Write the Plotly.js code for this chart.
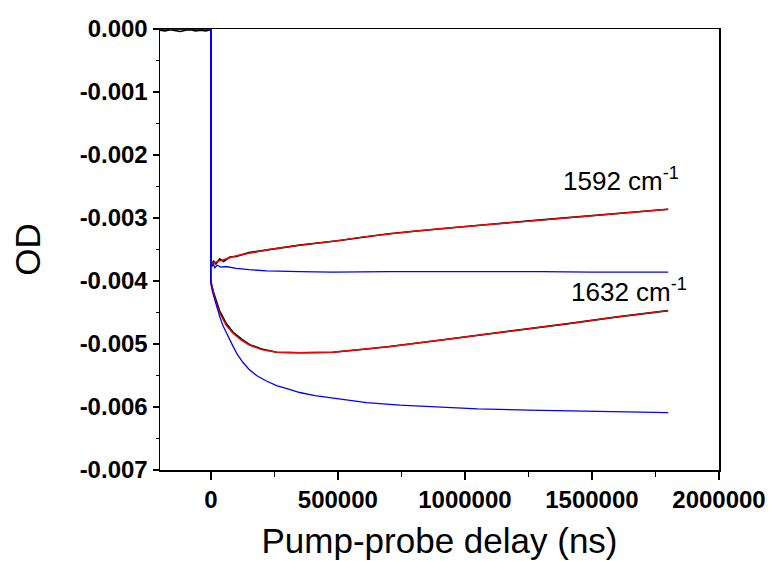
<!DOCTYPE html>
<html><head><meta charset="utf-8">
<script src="https://cdn.plot.ly/plotly-3.0.1.min.js"></script>
<style>body{margin:0;background:#fff}</style>
</head><body><div id="chart" style="width:771px;height:561px"></div>
<script>
// Pre-zero baseline
const tPre = [-200000, -180000, -160000, -140000, -120000, -100000, -80000, -60000, -40000, -20000, 0];
const blackPre = [-0.00002, -0.00003, -0.00001, -0.00003, -0.00004, -0.00002, -0.00001, -0.00003, -0.00002, -0.00003, -0.00001];
const bluePre = [0, 0, 0, 0, 0, 0, 0, 0, 0, 0, 0];

// 1592 cm-1 : data (black), fit (red), second data set (blue)
const t1592 = [0, 5000, 10000, 20000, 35000, 50000, 75000, 100000, 150000, 230000, 350000, 500000, 600000, 700000, 800000, 900000, 1100000, 1300000, 1500000, 1700000, 1800000];
const data1592 = [-0.00372, -0.00376, -0.00368, -0.00373, -0.00365, -0.00369, -0.00362, -0.00361, -0.00355, -0.00350, -0.00343, -0.00336, -0.00330, -0.00325, -0.00321, -0.00317, -0.00310, -0.00303, -0.00296, -0.00289, -0.00286];
const fit1592 = [-0.00373, -0.00372, -0.00371, -0.00370, -0.00368, -0.00366, -0.00363, -0.00360, -0.00356, -0.00350, -0.00343, -0.00336, -0.00330, -0.00325, -0.00321, -0.00317, -0.00310, -0.00303, -0.00296, -0.00289, -0.00286];
const tBlue1592 = [0, 5000, 10000, 15000, 25000, 40000, 60000, 100000, 150000, 220000, 350000, 480000, 700000, 900000, 1100000, 1300000, 1500000, 1800000];
const blue1592 = [-0.00371, -0.00377, -0.00372, -0.00379, -0.00375, -0.00378, -0.00377, -0.00380, -0.00382, -0.00384, -0.00385, -0.00386, -0.00385, -0.00385, -0.00384, -0.00385, -0.00386, -0.00386];

// 1632 cm-1
const t1632 = [0, 10000, 20000, 35000, 60000, 87000, 120000, 153000, 200000, 260000, 350000, 480000, 614000, 705000, 900000, 1100000, 1250000, 1400000, 1600000, 1800000];
const data1632 = [-0.00400, -0.00417, -0.00431, -0.00448, -0.00467, -0.00481, -0.00492, -0.00501, -0.00508, -0.00513, -0.00514, -0.00513, -0.00508, -0.00504, -0.00494, -0.00484, -0.00476, -0.00468, -0.00457, -0.00447];
const fit1632 = [-0.00402, -0.00420, -0.00434, -0.00451, -0.00470, -0.00483, -0.00494, -0.00502, -0.00509, -0.00513, -0.00514, -0.00513, -0.00508, -0.00504, -0.00494, -0.00484, -0.00476, -0.00468, -0.00457, -0.00447];
const tBlue1632 = [0, 5000, 15700, 25000, 35400, 48000, 61800, 75000, 86600, 105000, 126000, 150000, 180000, 215000, 258600, 300000, 350000, 410000, 480000, 550000, 613000, 744000, 900000, 1050000, 1250000, 1500000, 1800000];
const blue1632 = [-0.00403, -0.00415, -0.00430, -0.00444, -0.00457, -0.00471, -0.00483, -0.00494, -0.00503, -0.00517, -0.00529, -0.00540, -0.00550, -0.00558, -0.00566, -0.00571, -0.00577, -0.00582, -0.00586, -0.00590, -0.00593, -0.00597, -0.00600, -0.00603, -0.00605, -0.00607, -0.00609];

// Tick labels
const yTickVals = [0, -0.001, -0.002, -0.003, -0.004, -0.005, -0.006, -0.007];
const yTickText = ["0.000", "-0.001", "-0.002", "-0.003", "-0.004", "-0.005", "-0.006", "-0.007"];
const xTickVals = [0, 500000, 1000000, 1500000, 2000000];
const xTickText = ["0", "500000", "1000000", "1500000", "2000000"];

const labels = ["1592 cm<sup>-1</sup>", "1632 cm<sup>-1</sup>"];
const labelX = [1380000, 1410000];
const labelY = [-0.00239, -0.00415];

const F = "Arial, 'Liberation Sans', sans-serif";
function ln(x, y, color, w) {
  return {x: x, y: y, mode: "lines", type: "scatter", line: {color: color, width: w}, hoverinfo: "skip", showlegend: false};
}
const traces = [
  ln(tPre.concat(t1592), blackPre.concat(data1592), "#000", 1.6),
  ln([0].concat(t1632), [blackPre[blackPre.length-1]].concat(data1632), "#000", 1.6),
  ln(t1592, fit1592, "#ff0000", 1.4),
  ln(t1632, fit1632, "#ff0000", 1.4),
  ln(tPre.concat(tBlue1592), bluePre.concat(blue1592), "#0000ff", 1.3),
  ln(tPre.concat(tBlue1632), bluePre.concat(blue1632), "#0000ff", 1.3)
];

const layout = {
  width: 771, height: 561,
  margin: {l: 160, r: 52, t: 29, b: 91},
  paper_bgcolor: "#fff", plot_bgcolor: "#fff",
  showlegend: false,
  font: {family: F, color: "#000"},
  xaxis: {
    range: [-200000, 2000000], tickvals: xTickVals, ticktext: xTickText,
    showgrid: false, zeroline: false, showline: true, linecolor: "#000", linewidth: 1.5, mirror: true,
    ticks: "outside", ticklen: 8, tickwidth: 1.5, tickcolor: "#000",
    minor: {dtick: 250000, tick0: 0, ticks: "outside", ticklen: 5, tickwidth: 1.5, tickcolor: "#000"},
    tickfont: {family: F, size: 24, color: "#000", weight: "bold"},
    title: {text: "Pump-probe delay (ns)", font: {family: F, size: 35, color: "#000"}, standoff: 16}
  },
  yaxis: {
    range: [-0.007, 0], tickvals: yTickVals, ticktext: yTickText,
    showgrid: false, zeroline: false, showline: true, linecolor: "#000", linewidth: 1.5, mirror: true,
    ticks: "outside", ticklen: 6, tickwidth: 1.5, tickcolor: "#000",
    minor: {dtick: 0.0005, tick0: 0, ticks: "outside", ticklen: 3, tickwidth: 1.5, tickcolor: "#000"},
    tickfont: {family: F, size: 24, color: "#000", weight: "bold"},
    title: {text: "OD", font: {family: F, size: 35, color: "#000"}, standoff: 28}
  },
  annotations: labels.map((t, i) => ({
    x: labelX[i], y: labelY[i], xref: "x", yref: "y", text: t, showarrow: false,
    xanchor: "left", yanchor: "middle", font: {family: F, size: 26, color: "#000"}
  }))
};
Plotly.newPlot("chart", traces, layout, {staticPlot: true, displayModeBar: false});
</script></body></html>
